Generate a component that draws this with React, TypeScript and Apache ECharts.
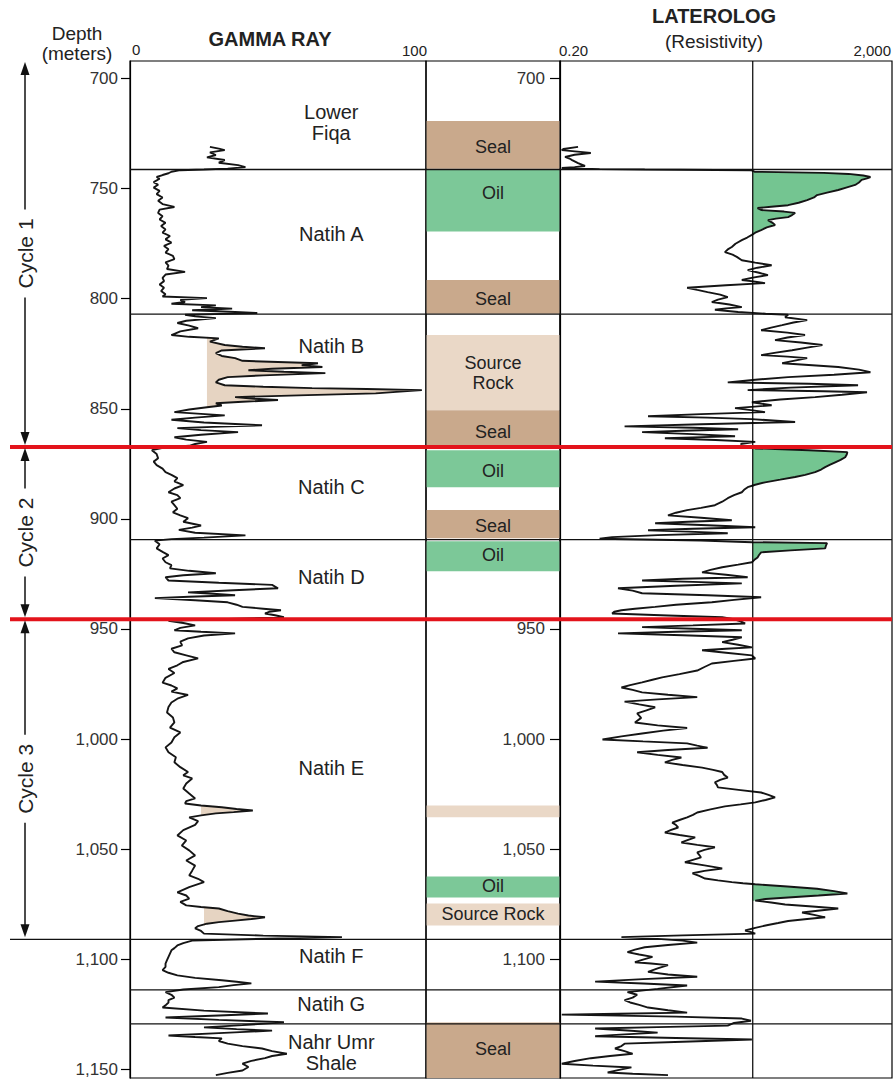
import React, { useEffect, useRef } from "react";
import * as echarts from "echarts";

const FONT = '"Liberation Sans", Arial, Helvetica, sans-serif';
const TEXT = "#222";

// depth axis
const DEPTH_MIN = 692;
const DEPTH_MAX = 1154;
const depthTicks = [700, 750, 800, 850, 900, 950, 1000, 1050, 1100, 1150];
const midTrackTicks = [700, 950, 1000, 1050, 1100];

// formation boundaries (m)
const formationBoundaries = [741.3, 807, 909.4, 1091, 1114, 1129.4];
const leftPanelBoundaries = [1091];
const cycleBoundaries = [867.3, 945.6];

const formationNames = ["Lower\nFiqa", "Natih A", "Natih B", "Natih C", "Natih D", "Natih E", "Natih F", "Natih G", "Nahr Umr\nShale"];
const formationLabelDepth = [720, 770.6, 821.5, 885.6, 926.5, 1013.4, 1098.8, 1120.6, 1142.5];
const formationLabelGamma = 68;

const cycleNames = ["Cycle 1", "Cycle 2", "Cycle 3"];
const cycleTop = [692, 867.3, 945.6];
const cycleBottom = [867.3, 945.6, 1091];

// middle track blocks
const blockTop = [719.3, 741.5, 791.5, 816.5, 850.6, 868.8, 896, 910.2, 1030.2, 1062.5, 1074.7, 1128.8];
const blockBottom = [741, 769.5, 806.8, 850.6, 866.8, 885.6, 908.8, 923.8, 1035.6, 1072, 1084.7, 1154];
const blockKind = ["seal", "oil", "seal", "source", "seal", "oil", "seal", "oil", "source", "oil", "source", "seal"];
const blockLabel = ["Seal", "Oil", "Seal", "Source\nRock", "Seal", "Oil", "Seal", "Oil", "", "Oil", "Source Rock", "Seal"];
const blockLabelDepth = [731.1, 752, 800.2, 833.8, 860.6, 878.4, 903.4, 916.5, 1033, 1067, 1079.7, 1141];
const blockColors: Record<string, string> = { seal: "#c9a98c", oil: "#7cc898", source: "#ead8c7" };

// gamma ray [depth m, API]
const gammaRay: [number, number][] = [
  [731.0, 27], [731.8, 30], [732.5, 32], [733.5, 27], [734.7, 29], [735.8, 26], [737.0, 32], [738.2, 30], [739.3, 36.5], [740.2, 39], [740.9, 33], [741.3, 25], [741.6, 17],
  [742.3, 14], [743.0, 13], [743.8, 11], [744.7, 9], [745.5, 10], [747.0, 8], [748.2, 9.5], [749.5, 8], [751.0, 10], [752.5, 9], [754.0, 11], [755.5, 9.5], [757.0, 11], [758.3, 15],
  [759.5, 10], [761.0, 9.5], [762.5, 11], [764.0, 10], [765.5, 12], [767.0, 10.5], [768.5, 12], [770.0, 11], [771.5, 13.5], [773.0, 12], [774.5, 14], [776.0, 11.5], [777.5, 13],
  [779.0, 12], [780.5, 14.5], [782.0, 15], [783.5, 12], [785.0, 13], [786.5, 12.5], [787.8, 18.6], [789.0, 12], [790.5, 11], [792.0, 11.5], [793.5, 10], [795.0, 11.5], [796.5, 10.5],
  [798.0, 12], [799.0, 11], [799.7, 26], [800.5, 17], [801.5, 18.6], [802.3, 14], [803.0, 29], [803.8, 24], [804.5, 34.5], [805.2, 21], [806.0, 35.5], [806.5, 43], [807.3, 18.6],
  [808.0, 22], [808.8, 29], [810.0, 19], [811.0, 16], [812.2, 20], [813.4, 23], [814.8, 17], [816.5, 14], [817.3, 20], [818.0, 30], [819.5, 27], [821.0, 32], [821.8, 38], [822.5, 45.6],
  [823.5, 31], [824.7, 29], [826.0, 31], [827.0, 35.5], [828.2, 38], [829.3, 63.5], [830.2, 58], [831.0, 65], [831.8, 48], [832.5, 40], [833.2, 52], [833.8, 66], [834.8, 45],
  [835.6, 33], [836.8, 30], [838.0, 29], [839.3, 32], [840.0, 45], [840.6, 61.5], [841.0, 80], [841.5, 98.6], [842.3, 90], [843.0, 83], [843.8, 60], [844.7, 35.5], [845.4, 42],
  [846.0, 50], [846.8, 38], [847.5, 29], [848.5, 31], [849.3, 26], [850.3, 20], [851.5, 15], [852.3, 24], [853.0, 32], [854.0, 22], [855.0, 14], [856.2, 25], [857.5, 44.6],
  [858.2, 28], [858.8, 16], [859.7, 24], [860.6, 36.5], [861.8, 24], [862.9, 15], [864.0, 19], [865.0, 26], [866.0, 22], [866.8, 20], [867.5, 12], [868.8, 7.4], [870.5, 9],
  [872.5, 9.5], [874.0, 8], [875.6, 9], [877.2, 11], [878.8, 12], [880.0, 14], [881.5, 16], [883.0, 15], [884.7, 18], [886.2, 15], [887.9, 13], [889.2, 16], [890.6, 17],
  [892.2, 14], [893.8, 15], [895.4, 16], [897.0, 14.5], [898.4, 17], [899.7, 19.6], [901.3, 18], [903.0, 24], [904.0, 21], [905.0, 16.5], [906.3, 22], [907.5, 39], [908.5, 25],
  [909.2, 14], [909.9, 8.4], [911.5, 10], [913.4, 9], [915.0, 11], [916.5, 13], [918.0, 11], [919.7, 12], [921.0, 14], [922.5, 13.5], [923.6, 20], [924.7, 29], [925.6, 18],
  [926.5, 12], [928.0, 13], [929.0, 30], [930.0, 48], [931.5, 50], [932.4, 35], [933.4, 19.6], [934.0, 28], [934.7, 35.5], [935.4, 20], [936.0, 8.4], [937.0, 22], [937.9, 33],
  [939.0, 36], [940.0, 38], [940.8, 45], [941.5, 51], [942.2, 47], [943.0, 45.6], [943.8, 49], [944.7, 52], [945.6, 30], [946.3, 13], [947.3, 18], [948.4, 22], [949.5, 17],
  [950.6, 15], [951.3, 24], [952.0, 35.5], [953.0, 25], [954.3, 19.6], [955.8, 17], [957.5, 17.6], [959.0, 14], [960.6, 15], [962.0, 19], [963.4, 23], [965.0, 18], [966.5, 16],
  [968.2, 13], [970.0, 15], [972.2, 12], [974.4, 11], [975.7, 14], [977.0, 16], [978.5, 14], [980.0, 19.6], [981.7, 16], [983.4, 14], [985.5, 13], [988.0, 12.5], [990.2, 14.5],
  [992.5, 15], [994.8, 13.5], [997.0, 17], [999.2, 15], [1001.6, 14], [1003.8, 12], [1006.0, 13], [1008.3, 15.5], [1010.6, 15], [1012.8, 17], [1015.0, 19.6], [1016.5, 18],
  [1017.9, 21], [1020.2, 19], [1022.5, 18], [1024.8, 20], [1027.0, 22], [1028.2, 19], [1029.3, 18.6], [1030.2, 24], [1031.0, 31], [1031.8, 36], [1032.5, 41.5], [1033.2, 35],
  [1033.8, 29], [1034.7, 24], [1035.6, 20], [1037.3, 23], [1039.0, 22], [1041.4, 18], [1043.8, 16], [1046.1, 19], [1048.4, 17.5], [1050.6, 20], [1052.9, 22], [1055.2, 19],
  [1057.5, 22], [1059.8, 21], [1062.0, 20], [1063.5, 23], [1065.0, 25], [1067.3, 20], [1069.7, 16], [1071.1, 19], [1072.5, 20], [1074.0, 17], [1075.6, 19], [1076.3, 24],
  [1077.0, 30], [1078.2, 33], [1079.3, 36.5], [1080.2, 40], [1081.0, 45.6], [1081.8, 41], [1082.5, 35.5], [1083.2, 30], [1083.9, 26], [1085.0, 23], [1086.0, 22], [1087.2, 24],
  [1088.4, 25], [1089.3, 45], [1090.0, 71.6], [1090.6, 50], [1091.6, 21], [1092.7, 18], [1093.8, 16], [1095.0, 15], [1096.0, 14], [1097.5, 13.5], [1099.0, 13], [1100.5, 12.5],
  [1102.0, 12], [1103.5, 12], [1105.0, 11], [1106.2, 13], [1107.4, 16], [1108.5, 22], [1109.6, 31], [1110.3, 36], [1111.0, 41], [1111.8, 35], [1112.7, 30], [1113.8, 18],
  [1115.0, 12], [1116.2, 14], [1117.5, 15], [1118.6, 13], [1119.7, 13], [1121.0, 12], [1122.0, 11], [1123.4, 25], [1124.7, 46.6], [1125.6, 30], [1126.5, 12], [1127.6, 30],
  [1128.7, 52], [1130.0, 38], [1131.0, 25], [1131.8, 36], [1132.5, 48], [1133.6, 30], [1134.7, 13], [1135.4, 22], [1136.0, 31], [1137.2, 30], [1138.4, 33], [1139.5, 38],
  [1140.6, 44.6], [1141.8, 48], [1143.0, 53], [1144.0, 48], [1145.0, 45.6], [1146.2, 41], [1147.5, 38], [1149.0, 40], [1150.6, 38], [1151.7, 33], [1152.7, 29],
];

// laterolog [depth m, ohm-m]
const laterolog: [number, number][] = [
  [731.0, 0.33], [732.0, 0.22], [732.5, 0.21], [733.3, 0.35], [733.8, 0.47], [734.6, 0.3], [735.6, 0.23], [736.3, 0.26], [737.0, 0.28], [738.4, 0.33], [739.7, 0.4], [740.2, 0.3],
  [740.6, 0.21], [741.1, 0.6], [741.3, 2.1], [741.6, 40], [742.3, 44], [742.8, 300], [743.3, 600], [744.0, 900], [744.7, 1100], [745.3, 1000], [746.0, 860], [747.2, 800],
  [748.3, 720], [749.5, 560], [750.6, 450], [751.8, 330], [752.9, 250], [754.0, 230], [755.2, 190], [756.4, 150], [757.5, 112], [758.2, 70], [758.8, 48], [759.7, 53],
  [760.4, 100], [761.0, 136], [762.0, 125], [762.9, 112], [763.6, 80], [764.3, 64], [765.4, 72], [766.5, 78], [767.6, 62], [768.8, 53], [770.0, 45], [771.0, 41], [772.2, 36],
  [773.4, 31], [775.0, 26], [776.5, 23.5], [777.6, 21], [778.8, 19.4], [780.0, 24], [781.0, 27], [782.5, 31], [783.6, 45], [784.8, 71], [785.9, 48], [787.0, 36.5], [788.2, 50],
  [789.3, 64], [790.4, 42], [791.5, 31], [792.2, 45], [792.9, 59], [793.9, 20], [795.0, 6.8], [796.0, 9], [797.0, 12], [798.1, 17], [799.3, 21], [800.4, 16], [801.5, 13.5],
  [802.6, 22], [803.8, 31], [804.4, 20], [805.0, 14.7], [806.0, 28], [806.8, 60], [807.3, 112], [808.4, 103], [809.7, 190], [810.8, 130], [812.0, 95], [813.1, 70], [814.3, 53],
  [815.4, 110], [816.5, 179], [817.6, 110], [818.8, 78], [819.9, 160], [821.0, 290], [822.2, 190], [823.4, 125], [824.5, 80], [825.6, 53], [826.3, 110], [827.0, 190], [828.2, 130],
  [829.3, 95], [830.2, 220], [831.0, 450], [832.2, 800], [833.4, 1100], [834.5, 400], [835.6, 112], [836.8, 45], [838.0, 21], [838.6, 200], [839.3, 780], [840.4, 120], [841.5, 36.5],
  [842.0, 300], [842.5, 1000], [843.6, 500], [844.7, 237], [845.8, 90], [847.0, 41], [848.4, 71], [849.7, 25.7], [850.6, 40], [851.5, 59], [852.4, 10], [853.4, 2.3], [854.0, 12],
  [854.7, 41], [856.0, 136], [857.0, 10], [858.0, 1.2], [858.6, 8], [859.3, 28], [860.0, 6], [860.6, 1.95], [861.5, 8], [862.5, 25.7], [863.0, 8], [863.4, 3.67], [864.2, 15],
  [865.0, 45], [866.0, 30], [867.0, 38], [868.0, 45], [868.8, 200], [869.7, 580], [870.8, 570], [872.0, 546], [873.2, 480], [874.3, 414], [875.4, 360], [876.5, 313], [877.6, 280],
  [878.8, 237], [880.0, 180], [881.0, 136], [882.2, 90], [883.4, 59], [884.5, 45], [885.6, 36.5], [886.8, 33], [887.9, 31], [889.2, 25], [890.6, 21], [892.2, 18], [893.8, 14.7],
  [895.0, 10], [896.0, 6.8], [897.2, 5], [898.4, 4], [899.5, 10], [900.6, 23.5], [901.3, 7], [902.0, 2.8], [902.9, 12], [903.8, 45], [904.5, 8], [905.2, 2.3], [905.8, 7],
  [906.5, 21], [907.4, 3], [908.3, 0.85], [909.0, 0.6], [909.8, 10], [910.6, 41], [911.0, 330], [912.2, 320], [913.4, 313], [914.3, 120], [915.2, 53], [916.4, 50], [917.5, 48],
  [918.6, 44], [919.7, 41], [920.8, 28], [922.0, 18], [923.2, 13], [924.3, 10.3], [925.4, 20], [926.5, 36.5], [927.2, 6], [928.0, 1.95], [928.6, 8], [929.3, 31], [930.4, 5],
  [931.5, 1], [932.6, 1.5], [933.8, 1.95], [934.7, 12], [935.6, 53], [936.8, 25], [937.9, 13.5], [939.0, 5], [940.0, 2.8], [940.8, 1.6], [941.5, 1.1], [942.2, 0.9], [943.0, 0.85],
  [943.9, 4], [944.7, 18], [945.6, 25], [946.6, 30], [947.5, 34], [948.4, 8], [949.2, 1.95], [949.9, 8], [950.6, 31], [951.3, 5], [952.0, 1], [952.9, 6], [953.8, 31], [954.9, 24],
  [956.0, 18], [957.2, 28], [958.4, 41], [959.0, 20], [959.7, 10.3], [960.8, 20], [962.0, 41], [963.4, 45], [964.5, 25], [965.7, 13.5], [967.3, 11], [968.9, 9], [970.5, 5.5],
  [972.0, 3.4], [973.1, 2.6], [974.3, 1.95], [975.5, 1.4], [976.6, 1.1], [977.7, 1.5], [978.8, 1.95], [979.9, 4], [981.0, 9], [982.0, 3], [983.0, 1.2], [984.3, 1.8], [985.6, 2.8],
  [987.0, 2.2], [988.4, 1.7], [990.4, 1.9], [992.5, 1.6], [993.8, 3], [995.0, 6.8], [996.2, 3.5], [997.5, 1.95], [998.8, 1.1], [1000.2, 0.65], [1001.1, 2], [1002.0, 6.8],
  [1003.0, 9], [1004.0, 12], [1005.0, 4], [1006.0, 1.7], [1007.2, 3], [1008.4, 5.8], [1009.5, 4.5], [1010.6, 3.67], [1011.8, 6], [1013.0, 10.3], [1014.0, 14], [1015.0, 18],
  [1016.3, 19], [1017.5, 21], [1018.6, 17], [1019.7, 14.7], [1020.8, 15.5], [1022.0, 16], [1023.2, 30], [1024.3, 53], [1025.4, 65], [1026.5, 78], [1027.7, 60], [1028.8, 45],
  [1029.7, 30], [1030.6, 19.4], [1032.0, 13], [1033.4, 9], [1034.5, 8], [1035.6, 6.8], [1036.8, 5.5], [1038.0, 4.5], [1039.1, 5], [1040.2, 5.3], [1041.4, 4.3], [1042.5, 3.67],
  [1043.6, 5.5], [1044.7, 8.5], [1045.8, 7], [1047.0, 5.8], [1048.1, 9], [1049.2, 14.7], [1050.4, 11], [1051.5, 9], [1052.6, 9.5], [1053.8, 10], [1054.9, 8], [1056.0, 6.4],
  [1057.4, 11], [1058.8, 18], [1059.9, 11], [1061.0, 7.9], [1062.2, 9.5], [1063.4, 11.2], [1064.2, 16], [1065.0, 23.5], [1065.5, 32], [1066.0, 45], [1067.0, 110], [1068.0, 250],
  [1069.1, 400], [1070.2, 580], [1071.1, 260], [1072.0, 112], [1072.7, 60], [1073.4, 45], [1074.3, 70], [1075.2, 103], [1076.1, 220], [1077.0, 450], [1077.9, 270], [1078.8, 165],
  [1079.9, 230], [1081.0, 313], [1081.8, 190], [1082.7, 112], [1083.6, 85], [1084.5, 64], [1085.8, 45], [1087.0, 34], [1087.7, 40], [1088.4, 45], [1089.2, 6], [1090.0, 1.1],
  [1090.8, 3], [1091.6, 6], [1092.5, 9], [1093.6, 4], [1094.6, 2.1], [1095.7, 1.6], [1096.8, 1.3], [1097.9, 1.8], [1099.0, 2.6], [1100.2, 2], [1101.4, 1.6], [1102.0, 2.5],
  [1102.7, 4], [1104.2, 3], [1105.8, 2.3], [1107.0, 4], [1108.0, 9], [1109.1, 2], [1110.2, 0.53], [1111.1, 2], [1112.0, 6.8], [1113.5, 3], [1115.0, 1.3], [1116.2, 1.7],
  [1117.5, 1.5], [1118.6, 1.2], [1119.7, 1.4], [1120.8, 1.8], [1122.0, 2.3], [1123.2, 4], [1124.3, 6.8], [1124.8, 1], [1125.2, 0.21], [1126.1, 5], [1127.0, 31], [1128.0, 40],
  [1129.0, 25], [1130.2, 21], [1130.9, 3], [1131.5, 0.53], [1132.4, 1.3], [1133.4, 3], [1134.2, 1.2], [1135.0, 0.53], [1135.8, 5], [1136.5, 41], [1137.5, 6], [1138.4, 1.2],
  [1139.5, 1.1], [1140.6, 0.92], [1141.8, 1.2], [1143.0, 1.5], [1144.0, 0.8], [1145.0, 0.47], [1146.3, 0.3], [1147.5, 0.21], [1148.4, 0.5], [1149.2, 1.45], [1150.4, 1],
  [1151.5, 0.75], [1152.1, 1.5], [1152.7, 4],
];

// oil shading on laterolog (curve right of cutoff)
const resistivityCutoff = 42;
const oilFillTop = [742.3, 868.3, 910.6, 1065.8];
const oilFillBottom = [771, 886, 920, 1073.6];

// source-rock shading on gamma ray
const srFillTop = [817.3, 1030.2, 1076.3];
const srFillBottom = [849.3, 1034.7, 1085];
const srFillBase = [26, 24, 25];

function fmtDepth(v: number) {
  return v >= 1000 ? Math.floor(v / 1000) + "," + String(v % 1000).padStart(3, "0") : String(v);
}

function hLineSeries(grid: number, depths: number[], xRef: number, color: string, width: number, z: number) {
  return {
    type: "custom", xAxisIndex: grid, yAxisIndex: grid, silent: true, z,
    data: depths.map((d) => [xRef, d]),
    renderItem: (params: any, api: any) => {
      const y = api.coord([xRef, api.value(1)])[1];
      const cs = params.coordSys;
      return { type: "line", shape: { x1: cs.x, y1: y, x2: cs.x + cs.width, y2: y }, style: { stroke: color, lineWidth: width } };
    },
  };
}

function fillSeries(grid: number, curve: [number, number][], tops: number[], bottoms: number[], bases: number[], color: string) {
  return {
    type: "custom", xAxisIndex: grid, yAxisIndex: grid, silent: true, z: 2,
    data: tops.map((t, i) => [bases[i], t]),
    renderItem: (params: any, api: any) => {
      const i = params.dataIndex;
      const top = tops[i], bottom = bottoms[i], base = bases[i];
      const pts: number[][] = [api.coord([base, top])];
      curve.forEach(([d, v]) => {
        if (d >= top && d <= bottom) pts.push(api.coord([Math.max(v, base), d]));
      });
      pts.push(api.coord([base, bottom]));
      return { type: "polygon", shape: { points: pts }, style: { fill: color } };
    },
  };
}

function textStyle(text: string, size: number, align = "center", weight = "normal") {
  return {
    text, fontSize: size, fontFamily: FONT, fontWeight: weight, fill: TEXT,
    align, textAlign: align, verticalAlign: "middle", textVerticalAlign: "middle",
  };
}

function buildOption() {
  const depthAxisBase = { type: "value", inverse: true, min: DEPTH_MIN, max: DEPTH_MAX, splitLine: { show: false } };
  const hidden = { axisLine: { show: false }, axisTick: { show: false }, axisLabel: { show: false } };
  const gridCommon = { top: 61, height: 1017, containLabel: false };

  return {
    animation: false,
    backgroundColor: "#fff",
    grid: [
      { ...gridCommon, left: 10, width: 120, show: false },
      { ...gridCommon, left: 130, width: 296, show: true, borderColor: "#000", borderWidth: 1.2, backgroundColor: "transparent" },
      { ...gridCommon, left: 426, width: 134, show: true, borderColor: "#000", borderWidth: 1.2, backgroundColor: "transparent" },
      { ...gridCommon, left: 560, width: 332, show: true, borderColor: "#000", borderWidth: 1.2, backgroundColor: "transparent" },
    ],
    xAxis: [
      { gridIndex: 0, type: "value", min: 0, max: 1, show: false, splitLine: { show: false } },
      { gridIndex: 1, type: "value", min: 0, max: 100, show: false, splitLine: { show: false } },
      { gridIndex: 2, type: "value", min: 0, max: 1, show: false, splitLine: { show: false } },
      { gridIndex: 3, type: "log", logBase: 10, min: 0.2, max: 2000, show: false, splitLine: { show: false } },
    ],
    yAxis: [
      { gridIndex: 0, ...depthAxisBase, ...hidden },
      {
        gridIndex: 1, ...depthAxisBase, position: "left",
        axisLine: { show: true, lineStyle: { color: "#000", width: 1.2 } },
        axisTick: { show: true, length: 9, customValues: depthTicks, lineStyle: { color: "#000", width: 1.2 } },
        axisLabel: { show: true, customValues: depthTicks, margin: 12, fontSize: 17, color: "#333", fontFamily: FONT, formatter: fmtDepth },
      },
      { gridIndex: 2, ...depthAxisBase, ...hidden },
      {
        gridIndex: 3, ...depthAxisBase, position: "left",
        axisLine: { show: true, lineStyle: { color: "#000", width: 1.2 } },
        axisTick: { show: true, length: 10, customValues: midTrackTicks, lineStyle: { color: "#000", width: 1.2 } },
        axisLabel: { show: true, customValues: midTrackTicks, margin: 15, fontSize: 17, color: "#333", fontFamily: FONT, formatter: fmtDepth },
      },
    ],
    graphic: [
      { type: "text", x: 77, y: 33, style: textStyle("Depth", 19) },
      { type: "text", x: 77, y: 53, style: textStyle("(meters)", 19) },
      { type: "text", x: 270, y: 39, style: textStyle("GAMMA RAY", 20, "center", "bold") },
      { type: "text", x: 132, y: 49, style: textStyle("0", 15, "left") },
      { type: "text", x: 427, y: 50, style: textStyle("100", 15, "right") },
      { type: "text", x: 714, y: 16, style: textStyle("LATEROLOG", 20, "center", "bold") },
      { type: "text", x: 714, y: 41, style: textStyle("(Resistivity)", 19) },
      { type: "text", x: 559, y: 50, style: textStyle("0.20", 15, "left") },
      { type: "text", x: 891, y: 50, style: textStyle("2,000", 15, "right") },
    ],
    series: [
      // middle-track blocks
      {
        type: "custom", xAxisIndex: 2, yAxisIndex: 2, silent: true, z: 1,
        data: blockTop.map((t, i) => [0.5, t]),
        renderItem: (params: any, api: any) => {
          const i = params.dataIndex;
          const p0 = api.coord([0, blockTop[i]]);
          const p1 = api.coord([1, blockBottom[i]]);
          const mid = api.coord([0.5, blockLabelDepth[i]]);
          const children: any[] = [
            { type: "rect", shape: { x: p0[0] + 0.6, y: p0[1], width: p1[0] - p0[0] - 1.2, height: p1[1] - p0[1] }, style: { fill: blockColors[blockKind[i]] } },
          ];
          if (blockLabel[i]) {
            children.push({ type: "text", x: mid[0], y: mid[1], style: { ...textStyle(blockLabel[i], 18), lineHeight: 20 } });
          }
          return { type: "group", children };
        },
      },
      // fills
      fillSeries(1, gammaRay, srFillTop, srFillBottom, srFillBase, "#e6d4c2"),
      fillSeries(3, laterolog, oilFillTop, oilFillBottom, oilFillTop.map(() => resistivityCutoff), "#74c591"),
      // curves
      {
        type: "line", name: "Gamma ray", xAxisIndex: 1, yAxisIndex: 1, showSymbol: false, silent: true, z: 3,
        data: gammaRay.map(([d, v]) => [v, d]),
        lineStyle: { color: "#151515", width: 1.9 },
      },
      {
        type: "line", name: "Laterolog", xAxisIndex: 3, yAxisIndex: 3, showSymbol: false, silent: true, z: 3,
        data: laterolog.map(([d, v]) => [v, d]),
        lineStyle: { color: "#151515", width: 1.9 },
      },
      // laterolog cutoff line
      {
        type: "custom", xAxisIndex: 3, yAxisIndex: 3, silent: true, z: 4,
        data: [[resistivityCutoff, 800]],
        renderItem: (params: any, api: any) => {
          const x = api.coord([api.value(0), 800])[0];
          const cs = params.coordSys;
          return { type: "line", shape: { x1: x, y1: cs.y, x2: x, y2: cs.y + cs.height }, style: { stroke: "#000", lineWidth: 1.2 } };
        },
      },
      // formation names
      {
        type: "custom", xAxisIndex: 1, yAxisIndex: 1, silent: true, z: 5,
        data: formationLabelDepth.map((d) => [formationLabelGamma, d]),
        renderItem: (params: any, api: any) => {
          const p = api.coord([api.value(0), api.value(1)]);
          return { type: "text", x: p[0], y: p[1], style: { ...textStyle(formationNames[params.dataIndex], 20), lineHeight: 21 } };
        },
      },
      // formation boundaries
      hLineSeries(1, formationBoundaries, 50, "#111", 1.3, 6),
      hLineSeries(2, formationBoundaries, 0.5, "#111", 1.3, 6),
      hLineSeries(3, formationBoundaries, 1, "#111", 1.3, 6),
      hLineSeries(0, leftPanelBoundaries, 0.5, "#111", 1.3, 6),
      // cycle boundaries (red)
      hLineSeries(0, cycleBoundaries, 0.5, "#e3131b", 4, 7),
      hLineSeries(1, cycleBoundaries, 50, "#e3131b", 4, 7),
      hLineSeries(2, cycleBoundaries, 0.5, "#e3131b", 4, 7),
      hLineSeries(3, cycleBoundaries, 1, "#e3131b", 4, 7),
      // cycle arrows
      {
        type: "custom", xAxisIndex: 0, yAxisIndex: 0, silent: true, z: 8,
        data: cycleTop.map((t, i) => [0.125, t]),
        renderItem: (params: any, api: any) => {
          const i = params.dataIndex;
          const pTop = api.coord([0.125, cycleTop[i]]);
          const pBot = api.coord([0.125, cycleBottom[i]]);
          const x = pTop[0];
          const yT = pTop[1] + 1;
          const yB = pBot[1] - 2;
          const yM = (yT + yB) / 2;
          const gap = 44;
          const ah = 13, aw = 4.5;
          const stroke = { stroke: "#111", lineWidth: 1.5 };
          return {
            type: "group",
            children: [
              { type: "line", shape: { x1: x, y1: yT + ah - 1, x2: x, y2: yM - gap }, style: stroke },
              { type: "line", shape: { x1: x, y1: yM + gap, x2: x, y2: yB - ah + 1 }, style: stroke },
              { type: "polygon", shape: { points: [[x, yT], [x - aw, yT + ah], [x + aw, yT + ah]] }, style: { fill: "#111" } },
              { type: "polygon", shape: { points: [[x, yB], [x - aw, yB - ah], [x + aw, yB - ah]] }, style: { fill: "#111" } },
              { type: "text", x, y: yM, rotation: Math.PI / 2, style: textStyle(cycleNames[i], 21) },
            ],
          };
        },
      },
    ],
  };
}

export default function App() {
  const ref = useRef<HTMLDivElement>(null);
  useEffect(() => {
    document.body.style.margin = "0";
    const chart = echarts.init(ref.current as HTMLDivElement, null, { renderer: "svg" });
    chart.setOption(buildOption() as any);
    return () => chart.dispose();
  }, []);
  return <div ref={ref} style={{ width: 894, height: 1080, background: "#fff" }} />;
}
